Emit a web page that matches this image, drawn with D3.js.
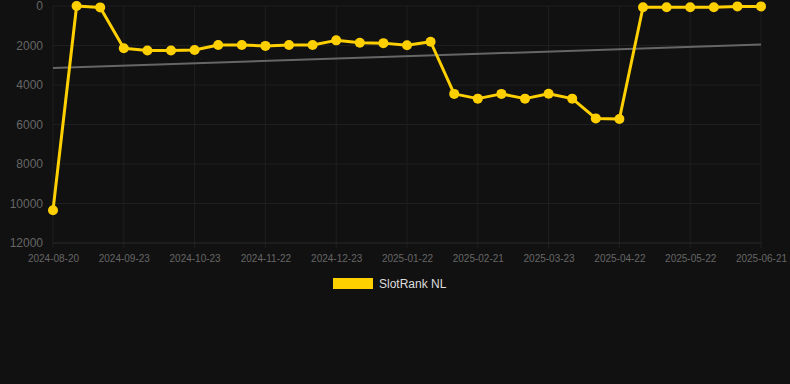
<!DOCTYPE html>
<html>
<head>
<meta charset="utf-8">
<script src="https://cdn.jsdelivr.net/npm/d3@7"></script>
<style>
  html, body { margin: 0; padding: 0; background: #111111; }
  svg { display: block; font-family: "Liberation Sans", Arial, sans-serif; }
</style>
</head>
<body>
<div id="chart"></div>
<script>
// dates of each sample (category axis, every 3rd one labelled)
const dates = [
    "2024-08-20", "2024-08-31", "2024-09-11", "2024-09-23", "2024-10-03", "2024-10-13",
    "2024-10-23", "2024-11-02", "2024-11-12", "2024-11-22", "2024-12-02", "2024-12-12",
    "2024-12-23", "2025-01-02", "2025-01-12", "2025-01-22", "2025-02-01", "2025-02-11",
    "2025-02-21", "2025-03-03", "2025-03-13", "2025-03-23", "2025-04-02", "2025-04-12",
    "2025-04-22", "2025-05-02", "2025-05-12", "2025-05-22", "2025-06-01", "2025-06-11",
    "2025-06-21"
];
const rankNL = [
    10340, 0, 70, 2140, 2250, 2250, 2230, 1975, 1975, 2020, 1975,
    1975, 1740, 1860, 1880, 1990, 1810, 4450, 4690, 4450, 4690,
    4440, 4690, 5690, 5720, 60, 60, 60, 60, 20, 20
];
const trendNL = [3140, 1950];   // start / end of the trend line
const yTicks = [0, 2000, 4000, 6000, 8000, 10000, 12000];
const seriesName = "SlotRank NL";

const width = 790, height = 384;
const margin = { top: 6, right: 29, bottom: 141, left: 53 };
const yellow = "#ffd000";

let svg = d3.select("#chart").append("svg")
    .attr("width", width)
    .attr("height", height);

svg.append("rect").attr("width", width).attr("height", height).attr("fill", "#111111");

let x = d3.scalePoint()
    .domain(dates)
    .range([margin.left, width - margin.right]);

let y = d3.scaleLinear()
    .domain([0, 12000])
    .range([margin.top, height - margin.bottom]);

const labelled = dates.filter((d, i) => i % 3 === 0);

// grid
let grid = svg.append("g");
grid.selectAll("line.v").data(labelled).join("line")
    .attr("x1", d => x(d)).attr("x2", d => x(d))
    .attr("y1", margin.top).attr("y2", y(12000) + 5)
    .attr("stroke", "#1f1f1f").attr("stroke-width", 1);
grid.selectAll("line.h").data(yTicks).join("line")
    .attr("x1", margin.left).attr("x2", width - margin.right)
    .attr("y1", d => y(d)).attr("y2", d => y(d))
    .attr("stroke", d => d === 12000 ? "#2a2a2a" : "#1f1f1f").attr("stroke-width", 1);

// axes
let xAxis = svg.append("g")
    .attr("transform", `translate(0,${y(12000) + 8})`)
    .call(d3.axisBottom(x).tickValues(labelled).tickSize(0).tickPadding(4));
xAxis.select(".domain").remove();
xAxis.selectAll("text").attr("fill", "#666").attr("font-size", 10);

let yAxis = svg.append("g")
    .attr("transform", `translate(${margin.left - 10},0)`)
    .call(d3.axisLeft(y).tickValues(yTicks).tickFormat(d3.format("d")).tickSize(0).tickPadding(0));
yAxis.select(".domain").remove();
yAxis.selectAll("text").attr("fill", "#666").attr("font-size", 12);

// trend line
svg.append("line")
    .attr("x1", x(dates[0])).attr("y1", y(trendNL[0]))
    .attr("x2", x(dates[dates.length - 1])).attr("y2", y(trendNL[1]))
    .attr("stroke", "#666").attr("stroke-width", 2);

// series
let line = d3.line()
    .x((d, i) => x(dates[i]))
    .y(d => y(d));

svg.append("path")
    .datum(rankNL)
    .attr("d", line)
    .attr("fill", "none")
    .attr("stroke", yellow)
    .attr("stroke-width", 3)
    .attr("stroke-linejoin", "round");

svg.selectAll("circle.pt").data(rankNL).join("circle")
    .attr("cx", (d, i) => x(dates[i]))
    .attr("cy", d => y(d))
    .attr("r", 5)
    .attr("fill", yellow);

// legend
let legend = svg.append("g").attr("transform", "translate(333,278)");
legend.append("rect")
    .attr("width", 40).attr("height", 11)
    .attr("fill", yellow);
legend.append("text")
    .attr("x", 46).attr("y", 6)
    .attr("dy", "0.35em")
    .attr("fill", "#dddddd")
    .attr("font-size", 12)
    .text(seriesName);
</script>
</body>
</html>
